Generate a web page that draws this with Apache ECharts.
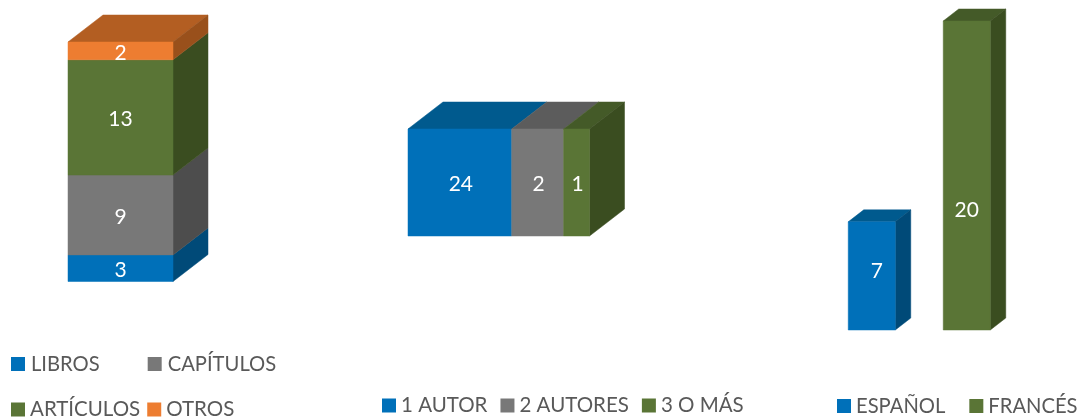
<!DOCTYPE html>
<html>
<head>
<meta charset="utf-8">
<style>html,body{margin:0;padding:0;background:#fff}#c{width:1082px;height:418px}</style>
<script src="https://cdn.jsdelivr.net/npm/echarts@6/dist/echarts.min.js"></script>
</head>
<body>
<div id="c"></div>
<script>
// ---- data ----
const typeNames = ['LIBROS', 'CAPÍTULOS', 'ARTÍCULOS', 'OTROS'];
const typeValues = [3, 9, 13, 2];

const authorNames = ['1 AUTOR', '2 AUTORES', '3 O MÁS'];
const authorLabels = [24, 2, 1];
// The printed "24" does not match its drawn length: the segments measure 4 : 2 : 1.
const authorDrawnLengths = [4, 2, 1];

const languageNames = ['ESPAÑOL', 'FRANCÉS'];
const languageValues = [7, 20];

// ---- styles ----
const FONT = 'Lato';
const TEXT = '#595959';
const palette = {
  blue:   { front: '#0070b9', top: '#005a8e', side: '#004a78' },
  gray:   { front: '#787878', top: '#5c5c5c', side: '#4d4d4d' },
  green:  { front: '#5a7536', top: '#445a28', side: '#3a4d20' },
  orange: { front: '#ed7d31', top: '#b35e22', side: '#99501b' }
};

function barSeries(cfg) {
  return {
    type: 'custom',
    name: cfg.name,
    xAxisIndex: cfg.axis,
    yAxisIndex: cfg.axis,
    itemStyle: { color: cfg.colors.front },
    silent: true,
    data: [cfg.datum],
    renderItem: function (params, api) {
      let x0, x1, y0, y1;
      if (cfg.horizontal) {
        const a = api.coord([api.value(0), 0]);
        const b = api.coord([api.value(1), 0]);
        const h = api.size([0, 1])[1];
        x0 = a[0]; x1 = b[0]; y0 = a[1] + h / 2; y1 = a[1] - h / 2;
      } else {
        const a = api.coord([api.value(0), api.value(1)]);
        const b = api.coord([api.value(0), api.value(2)]);
        const w = api.size([1, 0])[0] * cfg.barRatio;
        x0 = a[0] - w / 2; x1 = a[0] + w / 2; y0 = a[1]; y1 = b[1];
      }
      const dx = cfg.depth[0], dy = cfg.depth[1];
      const poly = function (pts, fill) {
        return { type: 'polygon', shape: { points: pts }, style: { fill: fill, stroke: fill, lineWidth: 0.5 } };
      };
      const kids = [];
      if (cfg.top) kids.push(poly([[x0, y1], [x1, y1], [x1 + dx, y1 - dy], [x0 + dx, y1 - dy]], cfg.colors.top));
      if (cfg.side) kids.push(poly([[x1, y0], [x1 + dx, y0 - dy], [x1 + dx, y1 - dy], [x1, y1]], cfg.colors.side));
      kids.push(poly([[x0, y0], [x1, y0], [x1, y1], [x0, y1]], cfg.colors.front));
      const off = cfg.labelOffset || [0, 2];
      kids.push({
        type: 'text',
        style: {
          text: String(cfg.label),
          x: (x0 + x1) / 2 + off[0], y: (y0 + y1) / 2 + off[1],
          fill: '#ffffff', fontFamily: FONT, fontSize: 21,
          align: 'center', verticalAlign: 'middle'
        }
      });
      return { type: 'group', children: kids };
    }
  };
}

const series = [];
// chart 1: one stacked column
const typeColors = [palette.blue, palette.gray, palette.green, palette.orange];
let runA = 0;
typeNames.forEach(function (n, i) {
  series.push(barSeries({
    name: n, axis: 0, colors: typeColors[i], barRatio: 1, depth: [35, 27],
    datum: [0, runA, runA + typeValues[i]], label: typeValues[i],
    top: i === typeNames.length - 1, side: true
  }));
  runA += typeValues[i];
});
// chart 2: one stacked horizontal bar
const authorColors = [palette.blue, palette.gray, palette.green];
let runB = 0;
authorNames.forEach(function (n, i) {
  series.push(barSeries({
    name: n, axis: 1, colors: authorColors[i], horizontal: true, depth: [35, 27],
    datum: [runB, runB + authorDrawnLengths[i]], label: authorLabels[i],
    top: true, side: i === authorNames.length - 1, labelOffset: [1, 2]
  }));
  runB += authorDrawnLengths[i];
});
// chart 3: two separate columns
const languageColors = [palette.blue, palette.green];
const languageLabelOffsets = [[5, -5], [0, 35]];
languageNames.forEach(function (n, i) {
  series.push(barSeries({
    name: n, axis: 2, colors: languageColors[i], barRatio: 0.495, depth: [15.5, 12],
    datum: [i, 0, languageValues[i]], label: languageValues[i],
    top: true, side: true, labelOffset: languageLabelOffsets[i]
  }));
});

function legend(names, left, top, gap, size, textPad) {
  return {
    data: names, left: left, top: top, padding: 0, itemGap: gap,
    itemWidth: 14, itemHeight: 14, icon: 'rect', selectedMode: false,
    textStyle: { fontFamily: FONT, fontSize: size, color: TEXT, padding: [0, 0, 0, textPad] }
  };
}
const hiddenValue = function (max) { return { type: 'value', show: false, min: 0, max: max }; };
const hiddenCat = function (data) { return { type: 'category', show: false, data: data }; };

const option = {
  animation: false,
  backgroundColor: '#ffffff',
  tooltip: { show: false },
  grid: [
    { left: 68, top: 42, width: 105, height: 239.5 },
    { left: 408, top: 129, width: 181.5, height: 107 },
    { left: 824.25, top: 21, width: 190, height: 309 }
  ],
  xAxis: [
    Object.assign(hiddenCat(['Tipo']), { gridIndex: 0 }),
    Object.assign(hiddenValue(7), { gridIndex: 1 }),
    Object.assign(hiddenCat(languageNames), { gridIndex: 2 })
  ],
  yAxis: [
    Object.assign(hiddenValue(27), { gridIndex: 0 }),
    Object.assign(hiddenCat(['Autores']), { gridIndex: 1 }),
    Object.assign(hiddenValue(20), { gridIndex: 2 })
  ],
  legend: [
    legend(typeNames.slice(0, 2), 11, 354, 48, 20.2, 1),
    legend(typeNames.slice(2), 11, 399, 7, 20.5, 0),
    legend(authorNames, 382, 395, 13, 20.5, 0),
    legend(languageNames, 837, 396, 24, 20.2, 0)
  ],
  series: series
};
echarts.init(document.getElementById('c'), null, { renderer: 'canvas' }).setOption(option);
</script>
</body>
</html>
